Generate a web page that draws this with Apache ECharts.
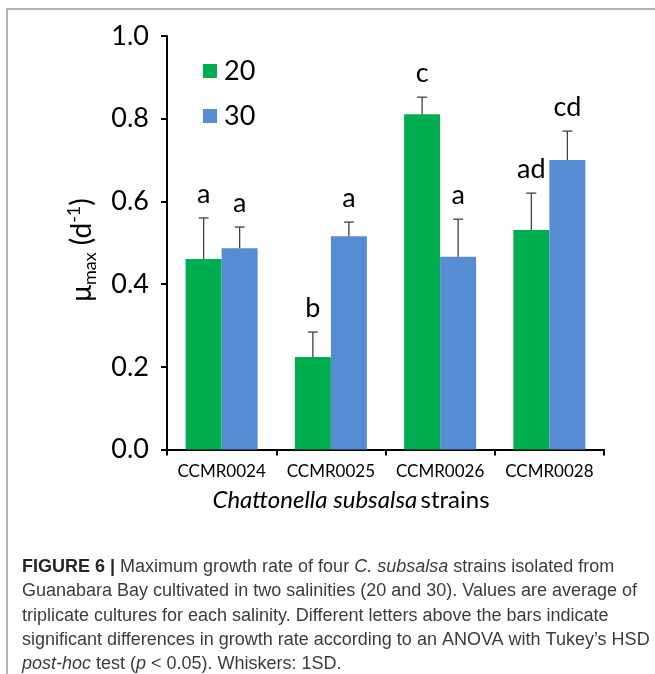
<!DOCTYPE html>
<html>
<head>
<meta charset="utf-8">
<script src="https://cdn.jsdelivr.net/npm/echarts@6/dist/echarts.min.js"></script>
<style>
  html, body { margin: 0; padding: 0; background: #ffffff; }
  #chart { width: 655px; height: 674px; }
</style>
</head>
<body>
<div id="chart"></div>
<script>
// Strains and salinity treatments
const strains = ['CCMR0024', 'CCMR0025', 'CCMR0026', 'CCMR0028'];
const salinities = ['20', '30'];

// Mean maximum growth rate (d^-1) and standard deviation per salinity
const mean20 = [0.461, 0.224, 0.811, 0.531];
const sd20   = [0.099, 0.060, 0.041, 0.089];
const mean30 = [0.487, 0.516, 0.466, 0.700];
const sd30   = [0.051, 0.034, 0.091, 0.070];

// Tukey HSD group letters
const letters20 = ['a', 'b', 'c', 'ad'];
const letters30 = ['a', 'a', 'a', 'cd'];

// Y axis range
const yMin = 0, yMax = 1.0, yStep = 0.2;

// Figure caption, one entry per line (rich-text markup)
const captionLines = [
  '{b|FIGURE 6 |} Maximum growth rate of four {i|C. subsalsa} strains isolated from',
  'Guanabara Bay cultivated in two salinities (20 and 30). Values are average of',
  'triplicate cultures for each salinity. Different letters above the bars indicate',
  'significant differences in growth rate according to an ANOVA with Tukey\u2019s HSD',
  '{i|post-hoc} test ({i|p} < 0.05). Whiskers: 1SD.'
];

const GREEN = '#00ae4f';
const BLUE = '#568cd2';
const FONT = 'Lato, "Open Sans", sans-serif';
const CAPTION_FONT = '"Liberation Sans", Arial, sans-serif';
const BAR_W = 36;

const chart = echarts.init(document.getElementById('chart'), null, { renderer: 'canvas' });

function errorSeries(name, means, sds, letters, side) {
  return {
    type: 'custom',
    name: name + ' SD',
    z: 5,
    silent: true,
    data: means.map((m, i) => [i, m, sds[i]]),
    renderItem: function (params, api) {
      const cat = api.value(0);
      const m = api.value(1);
      const s = api.value(2);
      const base = api.coord([cat, m]);
      const top = api.coord([cat, m + s]);
      const x = base[0] + side * BAR_W / 2;
      const lineStyle = { stroke: '#3f3f3f', lineWidth: 1.3 };
      return {
        type: 'group',
        children: [
          { type: 'line', shape: { x1: x, y1: base[1], x2: x, y2: top[1] }, style: lineStyle },
          { type: 'line', shape: { x1: x - 5, y1: top[1], x2: x + 5, y2: top[1] }, style: lineStyle },
          {
            type: 'text',
            style: {
              x: x, y: top[1] - 10,
              text: letters[params.dataIndex],
              fill: '#000000',
              font: '27px ' + FONT,
              align: 'center', verticalAlign: 'bottom',
              textAlign: 'center', textVerticalAlign: 'bottom'
            }
          }
        ]
      };
    }
  };
}

const captionStartY = 567;
const captionStep = 24.3;

const graphics = [
  // frame around the figure panel
  {
    type: 'rect', silent: true, z: 0,
    shape: { x: 7, y: 9, width: 900, height: 900 },
    style: { fill: 'none', stroke: '#9a9a9a', lineWidth: 1.5 }
  },
  // y axis title: μmax (d-1)
  {
    type: 'text', x: 82, y: 250, rotation: Math.PI / 2,
    style: {
      x: 0, y: 0,
      text: '{m|\u03bc}{s|max}{m| (d}{p|-1}{m|)}',
      align: 'center', verticalAlign: 'middle',
      textAlign: 'center', textVerticalAlign: 'middle',
      fill: '#000',
      rich: {
        m: { fontSize: 28, fontFamily: FONT, lineHeight: 34, fill: '#000' },
        s: { fontSize: 18, fontFamily: FONT, lineHeight: 18, verticalAlign: 'bottom', fill: '#000' },
        p: { fontSize: 18, fontFamily: FONT, lineHeight: 18, verticalAlign: 'top', fill: '#000' }
      }
    }
  },
  // x axis title
  {
    type: 'text', x: 351, y: 500,
    style: {
      x: 0, y: 0,
      text: '{i|Chattonella subsalsa} {n|strains}',
      align: 'center', verticalAlign: 'middle',
      textAlign: 'center', textVerticalAlign: 'middle',
      fill: '#000',
      rich: {
        i: { fontSize: 24, fontFamily: FONT, fontStyle: 'italic', fill: '#000' },
        n: { fontSize: 24, fontFamily: FONT, fill: '#000' }
      }
    }
  }
];

captionLines.forEach((line, k) => {
  graphics.push({
    type: 'text', x: 22, y: captionStartY + k * captionStep,
    style: {
      x: 0, y: 0,
      text: line,
      align: 'left', verticalAlign: 'middle',
      textAlign: 'left', textVerticalAlign: 'middle',
      fill: '#3c3c3c',
      font: '18px ' + CAPTION_FONT,
      rich: {
        b: { fontSize: 18, fontFamily: CAPTION_FONT, fontWeight: 'bold', fill: '#262626' },
        i: { fontSize: 18, fontFamily: CAPTION_FONT, fontStyle: 'italic', fill: '#3c3c3c' }
      }
    }
  });
});

const option = {
  backgroundColor: '#ffffff',
  animation: false,
  textStyle: { fontFamily: FONT },
  grid: { left: 167, right: 51, top: 36, bottom: 224.5, containLabel: false, outerBoundsMode: 'none' },
  legend: {
    data: salinities,
    orient: 'vertical',
    left: 198, top: 51,
    icon: 'rect',
    itemWidth: 14, itemHeight: 14,
    itemGap: 15,
    textStyle: { fontSize: 27, fontFamily: FONT, color: '#000', lineHeight: 30, padding: [0, 0, 0, 2] },
    selectedMode: false
  },
  xAxis: {
    type: 'category',
    data: strains,
    axisLine: { lineStyle: { color: '#000', width: 2 } },
    axisTick: { show: true, inside: false, length: 6, lineStyle: { color: '#000', width: 2 } },
    axisLabel: { interval: 0, fontSize: 17, fontFamily: FONT, color: '#000', margin: 14 },
    splitLine: { show: false }
  },
  yAxis: {
    type: 'value',
    min: yMin, max: yMax, interval: yStep,
    axisLine: { show: true, lineStyle: { color: '#000', width: 2 } },
    axisTick: { show: true, inside: false, length: 6, lineStyle: { color: '#000', width: 2 } },
    axisLabel: { fontSize: 27, fontFamily: FONT, color: '#000', margin: 18, formatter: v => v.toFixed(1) },
    splitLine: { show: false }
  },
  series: [
    { type: 'bar', name: salinities[0], data: mean20, barWidth: BAR_W, barGap: '0%', itemStyle: { color: GREEN }, z: 2 },
    { type: 'bar', name: salinities[1], data: mean30, barWidth: BAR_W, barGap: '0%', itemStyle: { color: BLUE }, z: 2 },
    errorSeries(salinities[0], mean20, sd20, letters20, -1),
    errorSeries(salinities[1], mean30, sd30, letters30, 1)
  ],
  graphic: graphics
};

chart.setOption(option);
</script>
</body>
</html>
